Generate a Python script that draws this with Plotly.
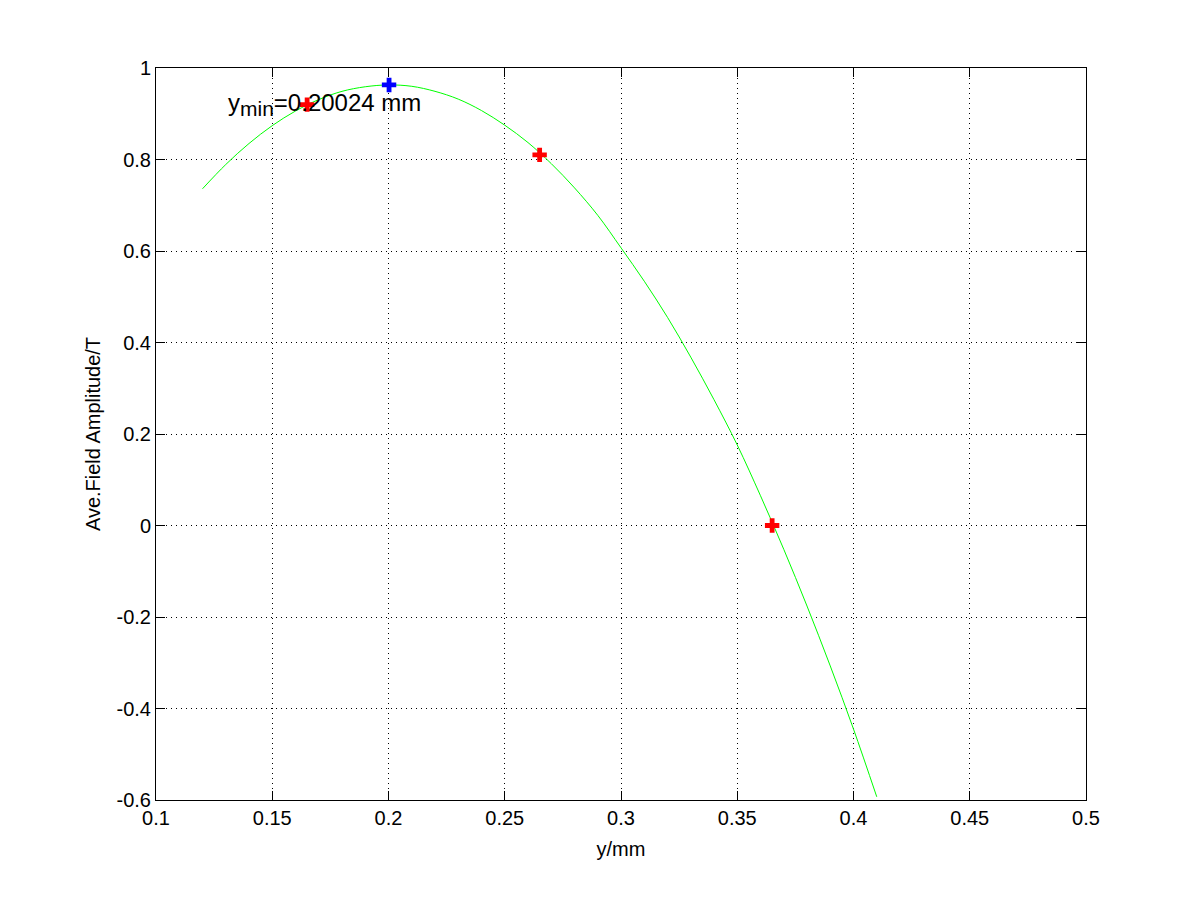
import plotly.graph_objects as go

# fitted curve
curve_x = [0.12, 0.13, 0.14, 0.15, 0.16, 0.17, 0.18, 0.19, 0.20, 0.21, 0.22, 0.23,
           0.24, 0.25, 0.26, 0.27, 0.28, 0.29, 0.30, 0.31, 0.32, 0.33, 0.34, 0.35,
           0.36, 0.37, 0.38, 0.39, 0.40, 0.41]
curve_y = [0.736, 0.789, 0.835, 0.874, 0.906, 0.931, 0.949, 0.959, 0.963, 0.960, 0.949, 0.932,
           0.907, 0.875, 0.837, 0.791, 0.738, 0.678, 0.607, 0.534, 0.455, 0.368, 0.275, 0.176,
           0.065, -0.052, -0.176, -0.307, -0.445, -0.593]

# measured points (red) and the fitted optimum (blue)
data_x = [0.165, 0.265, 0.365]
data_y = [0.92, 0.81, 0.0]
opt_x = [0.20024]
opt_y = [0.963]

annot_text = 'y<sub><span style="font-size:21px">min</span></sub>=0.20024 mm'
annot_x = 0.13
annot_y = 0.92

xtick_vals = [0.1, 0.15, 0.2, 0.25, 0.3, 0.35, 0.4, 0.45, 0.5]
xtick_text = ["0.1", "0.15", "0.2", "0.25", "0.3", "0.35", "0.4", "0.45", "0.5"]
ytick_vals = [-0.6, -0.4, -0.2, 0, 0.2, 0.4, 0.6, 0.8, 1]
ytick_text = ["-0.6", "-0.4", "-0.2", "0", "0.2", "0.4", "0.6", "0.8", "1"]

FONT = "Liberation Sans, Arial, Helvetica"

fig = go.Figure()
fig.add_trace(go.Scatter(x=curve_x, y=curve_y, mode="lines", line_shape="spline",
                         line=dict(color="#00ff00", width=1), showlegend=False))
fig.add_trace(go.Scatter(x=data_x, y=data_y, mode="markers",
                         marker=dict(symbol="cross", size=12, color="#ff0000", line=dict(width=0)),
                         showlegend=False))
fig.add_trace(go.Scatter(x=opt_x, y=opt_y, mode="markers",
                         marker=dict(symbol="cross", size=12, color="#0000ff", line=dict(width=0)),
                         showlegend=False))

fig.add_annotation(x=annot_x, y=annot_y, text=annot_text, showarrow=False,
                   xanchor="left", yanchor="middle",
                   font=dict(family=FONT, size=24, color="black"))

axis_common = dict(showline=True, linecolor="black", linewidth=1, mirror="ticks",
                   ticks="inside", ticklen=9, tickcolor="black", automargin=False,
                   showgrid=True, gridcolor="black", griddash="1px,4px", gridwidth=1,
                   zeroline=False, tickfont=dict(family=FONT, size=20, color="black"))

fig.update_xaxes(range=[0.1, 0.5], tickvals=xtick_vals, ticktext=xtick_text,
                 title=dict(text="y/mm", standoff=13,
                            font=dict(family=FONT, size=20, color="black")),
                 **axis_common)
fig.update_yaxes(range=[-0.6, 1], tickvals=ytick_vals, ticktext=ytick_text,
                 title=dict(text="Ave.Field Amplitude/T", standoff=10,
                            font=dict(family=FONT, size=20, color="black")),
                 **axis_common)

# page body adds an 8px offset, so margins are shifted accordingly
fig.update_layout(width=1200, height=900, margin=dict(l=148, r=122, t=60, b=108),
                  plot_bgcolor="white", paper_bgcolor="white")

fig.write_html("out.html")
